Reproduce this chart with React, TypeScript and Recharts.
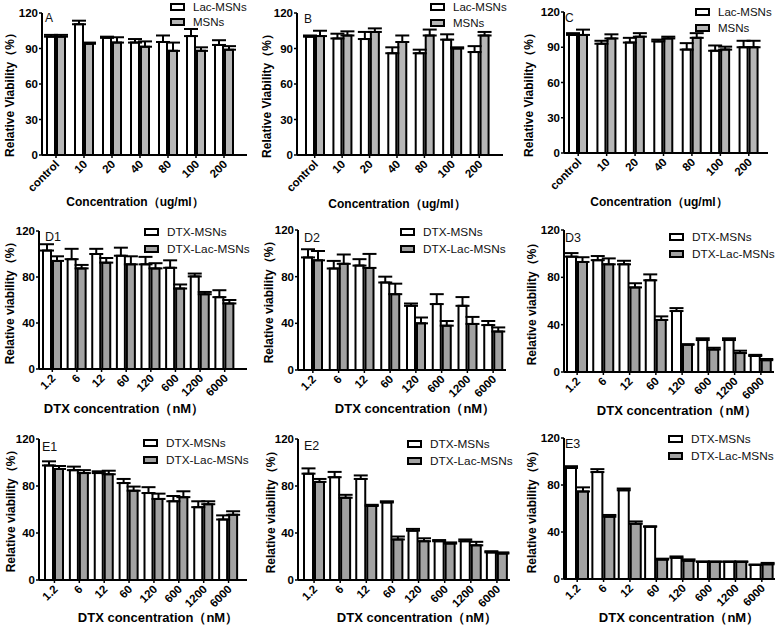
import React from 'react';
import { BarChart, Bar, XAxis, YAxis, ErrorBar, Legend } from 'recharts';

const concCategories = ['control', '10', '20', '40', '80', '100', '200'];
const dtxCategories = ['1.2', '6', '12', '60', '120', '600', '1200', '6000'];
const viabilityTicks = [0, 30, 60, 90, 120];
const dtxTicks = [0, 40, 80, 120];

// A
const lacA = [100, 110.5, 99, 95, 95.5, 100.5, 93];
const lacAErr = [1.5, 3, 1, 3, 5.5, 6, 4];
const msnA = [100, 94, 95, 91.5, 88, 88, 89];
const msnAErr = [1.5, 1, 4.5, 4.5, 7, 3, 3];
// B
const lacB = [100, 98.5, 98, 86, 86, 97.5, 87];
const lacBErr = [1, 4, 6, 5, 3, 4.5, 5];
const msnB = [100.5, 101, 104, 95.5, 101, 90, 101];
const msnBErr = [4.5, 3.5, 3, 5.5, 5, 1, 3];
// C
const lacC = [100.5, 93, 94, 95, 88, 87, 90];
const lacCErr = [1.5, 2.5, 4, 1.5, 5.5, 4.5, 5.5];
const msnC = [100.5, 97.5, 99, 97.5, 98, 88, 90];
const msnCErr = [4.5, 3.5, 3, 1.5, 4, 2.5, 5.5];
// D1
const dtxD1 = [103, 95.5, 100, 98.5, 91, 88, 80.5, 62.5];
const dtxD1Err = [5.5, 9, 4.5, 7, 6.5, 6.5, 2.5, 6];
const lacD1 = [94, 87.5, 92.5, 91, 87.5, 70, 65, 57];
const lacD1Err = [4, 3, 4, 7, 4.5, 3.5, 2, 3];
// D2
const dtxD2 = [96.5, 87, 89.5, 75, 55, 56.5, 55, 38.5];
const dtxD2Err = [7, 6.5, 5.5, 5, 2, 8.5, 7.5, 3.5];
const lacD2 = [94, 91, 87.5, 65, 40, 38, 39.5, 33];
const lacD2Err = [8, 8, 12, 9, 5, 4, 6, 3.5];
// D3
const dtxD3 = [97.5, 94.5, 91, 77.5, 51.5, 27, 27, 13.5];
const dtxD3Err = [3, 3.5, 3, 5, 2.5, 1.5, 1.5, 1];
const lacD3 = [93, 91, 71.5, 44, 23, 19, 16, 10];
const lacD3Err = [4, 5, 3.5, 3, 0.5, 1.5, 2, 1];
// E1
const dtxE1 = [97.5, 93.5, 91, 82.5, 74, 67, 62, 51.5];
const dtxE1Err = [3.5, 3, 1.5, 3.5, 5, 4.5, 5, 3.5];
const lacE1 = [94.5, 91, 90, 76, 69, 70.5, 64.5, 55.5];
const lacE1Err = [2.5, 2.5, 3, 3.5, 4.5, 5, 2.5, 3];
// E2
const dtxE2 = [90.5, 87.5, 86, 66, 42, 33, 33, 23.5];
const dtxE2Err = [4.5, 4.5, 3, 1, 1.5, 1, 1.5, 1];
const lacE2 = [83.5, 70, 63, 34.5, 33, 31, 29.5, 22.5];
const lacE2Err = [2.5, 2.5, 1, 2.5, 2.5, 1, 3, 1];
// E3
const dtxE3 = [94.5, 91, 75.5, 44.5, 18, 14.5, 14.5, 12];
const dtxE3Err = [1.5, 2.5, 1.5, 0.3, 1.2, 0.5, 0.5, 0.3];
const lacE3 = [74.5, 53, 47, 16.5, 15.5, 14.5, 14.5, 12.5];
const lacE3Err = [3.5, 1.5, 2, 0.8, 1.2, 0.5, 0.5, 1.2];

const concLabel = 'Concentration（ug/ml）';
const dtxLabel = 'DTX concentration（nM）';

const topRow = { cats: concCategories, ticks: viabilityTicks, s1: 'Lac-MSNs', s2: 'MSNs', yLabel: 'Relative Viability（%）', xLabel: concLabel, gray: '#b6b6b6', small: true };
const dtxRow = { cats: dtxCategories, ticks: dtxTicks, s1: 'DTX-MSNs', s2: 'DTX-Lac-MSNs', yLabel: 'Relative viability（%）', xLabel: dtxLabel, gray: '#a2a2a2', small: false };

// positions are page coordinates
const panels = [
  { ...topRow, id: 'A', v1: lacA, e1: lacAErr, v2: msnA, e2: msnAErr, box: [0, 0, 255, 215], axis: 42, end: 247, padL: 0, padR: 9, top: 13, zero: 155, legend: [170, 6.5], letter: [45, 22], yLab: [10, 92], xLab: [135, 202], barSize: 8 },
  { ...topRow, id: 'B', v1: lacB, e1: lacBErr, v2: msnB, e2: msnBErr, box: [255, 0, 260, 215], axis: 297, end: 503, padL: 4, padR: 10, top: 13, zero: 155, legend: [430, 7], letter: [304, 23], yLab: [267, 93], xLab: [397, 204], barSize: 8 },
  { ...topRow, id: 'C', v1: lacC, e1: lacCErr, v2: msnC, e2: msnCErr, box: [515, 0, 263, 215], axis: 564, end: 768, padL: 0, padR: 5, top: 12, zero: 153, legend: [695, 12], letter: [565, 22], yLab: [529, 92], xLab: [659, 202], barSize: 8 },
  { ...dtxRow, id: 'D1', v1: dtxD1, e1: dtxD1Err, v2: lacD1, e2: lacD1Err, box: [0, 205, 255, 215], axis: 39, end: 247, padL: 1, padR: 10, top: 231, zero: 369, legend: [144, 231.5], letter: [45, 241], yLab: [10, 300], xLab: [124, 408], barSize: 8 },
  { ...dtxRow, id: 'D2', v1: dtxD2, e1: dtxD2Err, v2: lacD2, e2: lacD2Err, box: [255, 205, 260, 215], axis: 298, end: 506, padL: 2, padR: 0, top: 230, zero: 370, legend: [400, 232], letter: [304, 242], yLab: [269, 299], xLab: [415, 408], barSize: 8 },
  { ...dtxRow, id: 'D3', v1: dtxD3, e1: dtxD3Err, v2: lacD3, e2: lacD3Err, box: [515, 205, 263, 215], axis: 564, end: 774, padL: 0, padR: 0, top: 230, zero: 372, legend: [669, 237], letter: [565, 242], yLab: [532, 301], xLab: [677, 410], barSize: 9 },
  { ...dtxRow, id: 'E1', v1: dtxE1, e1: dtxE1Err, v2: lacE1, e2: lacE1Err, box: [0, 415, 255, 212], axis: 39, end: 247, padL: 3, padR: 6, top: 439, zero: 580, legend: [143, 443], letter: [42, 451], yLab: [11, 508], xLab: [158, 617], barSize: 8 },
  { ...dtxRow, id: 'E2', v1: dtxE2, e1: dtxE2Err, v2: lacE2, e2: lacE2Err, box: [255, 415, 260, 212], axis: 298, end: 510, padL: 3, padR: 0, top: 439, zero: 580, legend: [407, 444], letter: [304, 450], yLab: [271, 509], xLab: [417, 617], barSize: 9 },
  { ...dtxRow, id: 'E3', v1: dtxE3, e1: dtxE3Err, v2: lacE3, e2: lacE3Err, box: [515, 415, 263, 212], axis: 564, end: 775, padL: 0, padR: 0, top: 438, zero: 579, legend: [668, 439], letter: [565, 448], yLab: [532, 509], xLab: [679, 617], barSize: 10 },
];

type PanelDef = (typeof panels)[number];

const XTick = (props: any) => {
  const { x, y, payload } = props;
  return (
    <g transform={`translate(${x + 4},${y + 5})`}>
      <text transform="rotate(-45)" textAnchor="end" fontSize={11.5} fontWeight="bold" fill="#000">
        {payload.value}
      </text>
    </g>
  );
};

function Panel({ p }: { p: PanelDef }) {
  const [bx, by, bw, bh] = p.box;
  const yAxisW = 30;
  const xAxisH = 40;
  const rowH = p.small ? 15.5 : 17;
  const data = p.cats.map((c, i) => ({
    cat: c,
    a: p.v1[i],
    ea: [0, p.e1[i]],
    b: p.v2[i],
    eb: [0, p.e2[i]],
  }));
  const margin = {
    left: p.axis - bx - yAxisW,
    right: bx + bw - p.end,
    top: p.top - by,
    bottom: by + bh - p.zero - xAxisH,
  };
  const ylx = p.yLab[0] - bx;
  const yly = p.yLab[1] - by;

  // keep the series order (white first), not alphabetical
  const renderLegend = (props: any) => {
    const items = [...(props.payload || [])].sort((u: any, v: any) => String(u.dataKey).localeCompare(String(v.dataKey)));
    return (
      <div>
        {items.map((e: any) => (
          <div key={e.value} style={{ display: 'flex', alignItems: 'center', height: rowH }}>
            <span style={{ display: 'inline-block', boxSizing: 'border-box', width: 15, height: 8, border: '2px solid #000', background: e.color }} />
            <span style={{ marginLeft: 8, fontSize: p.small ? 11.5 : 11.8, color: '#111', whiteSpace: 'nowrap' }}>{e.value}</span>
          </div>
        ))}
      </div>
    );
  };

  return (
    <div style={{ position: 'absolute', left: bx, top: by }}>
      <BarChart width={bw} height={bh} data={data} margin={margin} barGap={2} barSize={p.barSize}>
        <XAxis
          dataKey="cat"
          height={xAxisH}
          interval={0}
          padding={{ left: p.padL, right: p.padR }}
          axisLine={{ stroke: '#000', strokeWidth: 2 }}
          tickLine={{ stroke: '#000', strokeWidth: 1.5 }}
          tickSize={3}
          tickMargin={2}
          tick={(t: any) => <XTick {...t} />}
          label={{
            content: () => (
              <text x={p.xLab[0] - bx} y={p.xLab[1] - by} dy="0.35em" textAnchor="middle" fontSize={p.small ? 12 : 13} fontWeight="bold" fill="#000">
                {p.xLabel}
              </text>
            ),
          }}
        />
        <YAxis
          width={yAxisW}
          domain={[0, 120]}
          ticks={p.ticks}
          interval={0}
          axisLine={{ stroke: '#000', strokeWidth: 2 }}
          tickLine={{ stroke: '#000', strokeWidth: 1.5 }}
          tickSize={3}
          tickMargin={1}
          tick={{ fill: '#000', fontSize: 11.5, fontWeight: 'bold' }}
          label={{
            content: () => (
              <g>
                <text x={ylx} y={yly} dy="0.35em" textAnchor="middle" transform={`rotate(-90, ${ylx}, ${yly})`} fontSize={12} fontWeight="bold" fill="#000">
                  {p.yLabel}
                </text>
                <text x={p.letter[0] - bx} y={p.letter[1] - by} fontSize={p.small ? 12 : 12.5} fill="#111">
                  {p.id}
                </text>
              </g>
            ),
          }}
        />
        <Legend
          layout="vertical"
          align="center"
          verticalAlign="middle"
          itemSorter="dataKey"
          content={renderLegend}
          wrapperStyle={{ left: p.legend[0] - bx, top: p.legend[1] - rowH / 2 - by, width: 'auto', height: 'auto' }}
        />
        <Bar dataKey="a" name={p.s1} fill="#ffffff" stroke="#000" strokeWidth={2} isAnimationActive={false}>
          <ErrorBar dataKey="ea" width={7} stroke="#000" strokeWidth={2} direction="y" />
        </Bar>
        <Bar dataKey="b" name={p.s2} fill={p.gray} stroke="#000" strokeWidth={2} isAnimationActive={false}>
          <ErrorBar dataKey="eb" width={7} stroke="#000" strokeWidth={2} direction="y" />
        </Bar>
      </BarChart>
    </div>
  );
}

export default function App() {
  return (
    <div style={{ position: 'absolute', left: 0, top: 0, width: 778, height: 627, background: '#fff', fontFamily: 'Arial, "Liberation Sans", sans-serif', overflow: 'hidden' }}>
      {panels.map((p) => (
        <Panel key={p.id} p={p} />
      ))}
    </div>
  );
}
